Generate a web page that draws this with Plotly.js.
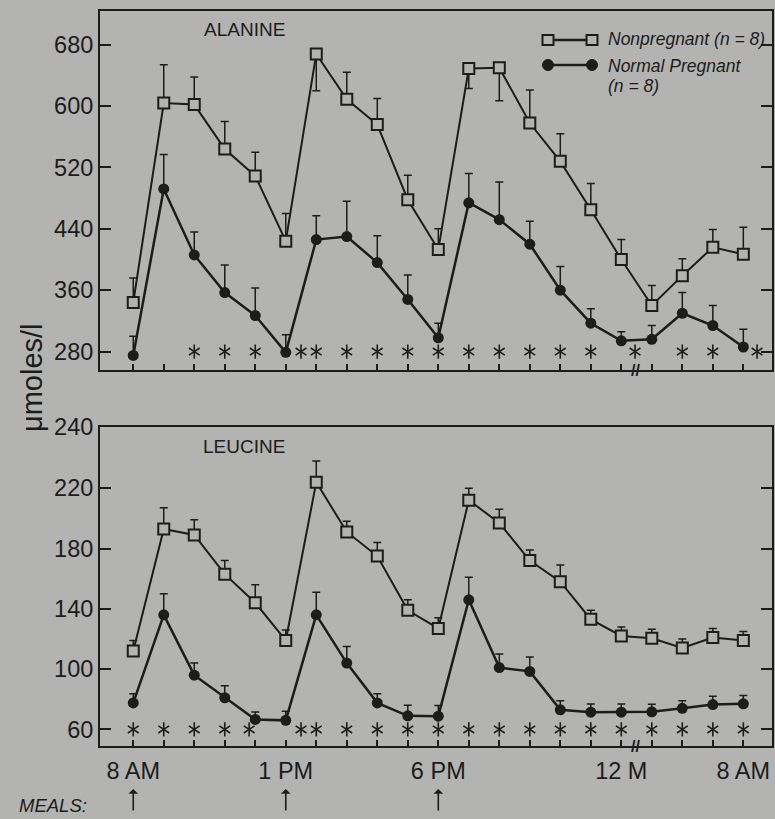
<!DOCTYPE html>
<html><head><meta charset="utf-8">
<script src="https://cdn.plot.ly/plotly-3.0.1.min.js"></script>
<style>html,body{margin:0;padding:0;background:#b3b3b1;}#chart{width:775px;height:819px;}</style>
</head><body><div id="chart"></div>
<script>
// ---- data ----
const timeIdx = [0,1,2,3,4,5,6,7,8,9,10,11,12,13,14,15,16,17,18,19,20];
const xTickLabels = ['8 AM','','','','','1 PM','','','','','6 PM','','','','','','12 M','','','','8 AM'];
const mealIdx = [0,5,10];

const alaNonpreg      = [344,604,602,544,509,424,668,609,576,478,413,649,650,578,528,465,400,340,379,416,407];
const alaNonpregErrUp = [32,50,36,36,31,36,0,35,34,32,27,0,0,43,36,34,26,26,22,23,35];
const alaNonpregErrDn = [0,0,0,0,0,0,48,0,0,0,0,26,43,0,0,0,0,0,0,0,0];
const alaPreg         = [275,492,406,357,327,279,426,430,396,348,298,474,452,420,360,317,294,296,330,314,286];
const alaPregErrUp    = [25,45,30,36,36,23,31,46,35,32,19,38,49,30,31,19,12,18,27,26,23];
const alaStarX        = [2,3,4,5.5,6,7,8,9,10,11,12,13,14,15,16.45,18,19,20.45];
const alaStarLevel    = 280;

const leuNonpreg      = [112,193,189,163,144,119,224,191,175,139,127,212,197,172,158,133,122,120.5,114,121,119];
const leuNonpregErrUp = [7,14,10,9,12,7,14,7,9,7,7,8,9,7,11,6,6,6,6,6,6];
const leuPreg         = [77.6,136,96,81,66.6,66,136,104,77.6,69,68.8,146,101,98.5,73,71.4,71.4,71.7,74,76.5,77];
const leuPregErrUp    = [6,14,8,8,5,6,15,11,6,7,7,15,9,9.5,6,5.5,5.5,5,5,5.5,5.5];
const leuStarX        = [0,1,2,3,3.8,5.5,6,7,8,9,10,11,12,13,14,15,16,17,18,19,20];
const leuStarLevel    = 60;

const alaTicks = [280,360,440,520,600,680];
const alaTickText = ['280','360','440','520','600','680'];
const leuTicks = [60,100,140,180,220,260.5];
const leuTickText = ['60','100','140','180','220','240'];

// ---- style ----
const INK = '#1c1c1c';
const BG = '#b3b3b1';
const FONT = 'Liberation Sans, Arial, sans-serif';
const L = 100, R = 3, T = 11, B = 73, WIDTH = 775, HEIGHT = 819;
const PW = WIDTH - L - R, PH = HEIGHT - T - B;
const px = x => (x - L) / PW;
const py = y => (HEIGHT - B - y) / PH;

function errY(up, dn) {
  return {type:'data', symmetric:false, array:up, arrayminus:dn || up.map(()=>0),
          color:INK, thickness:1.5, width:4};
}
function seriesNon(y, up, dn, xa, ya) {
  return {x:timeIdx, y:y, xaxis:xa, yaxis:ya, mode:'lines+markers', showlegend:false,
    line:{color:INK, width:2},
    marker:{symbol:'square', size:11, color:BG, line:{color:INK, width:2}},
    error_y:errY(up, dn), cliponaxis:false};
}
function seriesPreg(y, up, xa, ya) {
  return {x:timeIdx, y:y, xaxis:xa, yaxis:ya, mode:'lines+markers', showlegend:false,
    line:{color:INK, width:2.5},
    marker:{symbol:'circle', size:11, color:INK},
    error_y:errY(up), cliponaxis:false};
}
function stars(xs, level, xa, ya, sym) {
  return {x:xs, y:xs.map(()=>level), xaxis:xa, yaxis:ya, mode:'markers', showlegend:false,
    marker:{symbol:sym, size:9, color:INK, line:{color:INK, width:1.6}}, cliponaxis:false, hoverinfo:'skip'};
}

const data = [
  seriesNon(alaNonpreg, alaNonpregErrUp, alaNonpregErrDn, 'x2', 'y2'),
  seriesPreg(alaPreg, alaPregErrUp, 'x2', 'y2'),
  stars(alaStarX, alaStarLevel, 'x2', 'y2', 'y-up-open'),
  stars(alaStarX, alaStarLevel, 'x2', 'y2', 'y-down-open'),
  seriesNon(leuNonpreg, leuNonpregErrUp, null, 'x', 'y'),
  seriesPreg(leuPreg, leuPregErrUp, 'x', 'y'),
  stars(leuStarX, leuStarLevel, 'x', 'y', 'y-up-open'),
  stars(leuStarX, leuStarLevel, 'x', 'y', 'y-down-open')
];

const xBase = {range:[-1.09, 20.94], tickvals:timeIdx, ticktext:xTickLabels,
  ticks:'inside', ticklen:6, tickwidth:2, tickcolor:INK, ticklabelstandoff:3,
  showline:true, linewidth:2, linecolor:INK, mirror:true,
  showgrid:false, zeroline:false, tickfont:{family:FONT, size:23.5, color:INK}, fixedrange:true};
const yBase = {ticks:'inside', ticklen:11, tickwidth:2, tickcolor:INK,
  showline:true, linewidth:2, linecolor:INK, mirror:'ticks',
  showgrid:false, zeroline:false, tickfont:{family:FONT, size:23.5, color:INK}, fixedrange:true};

const topDomainLow = py(370);
const botDomainHigh = py(427);

function label(text, x, y, size, extra) {
  return Object.assign({text:text, x:px(x), y:py(y), xref:'paper', yref:'paper',
    xanchor:'center', yanchor:'middle', showarrow:false,
    font:{family:FONT, size:size, color:INK}}, extra || {});
}

const annotations = [
  label('ALANINE', 244, 29.5, 19),
  label('LEUCINE', 244, 446.5, 19),
  label('Nonpregnant (n = 8)', 606, 39, 17.5, {xanchor:'left', font:{family:FONT, size:17.5, color:INK, style:'italic'}}),
  label('Normal Pregnant', 606, 66, 17.5, {xanchor:'left', font:{family:FONT, size:17.5, color:INK, style:'italic'}}),
  label('(n = 8)', 606, 86, 17.5, {xanchor:'left', font:{family:FONT, size:17.5, color:INK, style:'italic'}}),
  label('\u03bcmoles/l', 32, 378, 29, {textangle:-90}),
  label('MEALS:', 53, 805, 18.5, {font:{family:FONT, size:18.5, color:INK, style:'italic'}}),
  {text:'<b>//</b>', x:16.45, xref:'x', y:0, yref:'paper', xanchor:'center', yanchor:'middle', showarrow:false,
   font:{family:FONT, size:16, color:INK}},
  {text:'<b>//</b>', x:16.45, xref:'x2', y:topDomainLow, yref:'paper', xanchor:'center', yanchor:'middle', showarrow:false,
   font:{family:FONT, size:16, color:INK}}
];
mealIdx.forEach(m => annotations.push({
  text:'', x:m, xref:'x', y:py(789), yref:'paper', showarrow:true, ax:0, ay:23,
  arrowhead:1, arrowsize:1, arrowwidth:1.6, arrowcolor:INK
}));

// legend samples
const shapes = [];
function legLine(y0) {
  shapes.push({type:'line', xref:'paper', yref:'paper', x0:px(548), x1:px(592), y0:py(y0), y1:py(y0),
    line:{color:INK, width:2.5}});
}
function legSquare(cx, cy) {
  shapes.push({type:'rect', xref:'paper', yref:'paper', x0:px(cx-5.5), x1:px(cx+5.5), y0:py(cy+5), y1:py(cy-5),
    fillcolor:BG, line:{color:INK, width:2}});
}
function legCircle(cx, cy) {
  shapes.push({type:'circle', xref:'paper', yref:'paper', x0:px(cx-5.5), x1:px(cx+5.5), y0:py(cy+5.5), y1:py(cy-5.5),
    fillcolor:INK, line:{color:INK, width:1}});
}
legLine(40); legSquare(548,40); legSquare(592,40);
legLine(65); legCircle(548,65); legCircle(592,65);

const layout = {
  width:WIDTH, height:HEIGHT, margin:{l:L, r:R, t:T, b:B},
  paper_bgcolor:BG, plot_bgcolor:BG, showlegend:false,
  xaxis:Object.assign({}, xBase, {anchor:'y', domain:[0,1]}),
  xaxis2:Object.assign({}, xBase, {anchor:'y2', domain:[0,1], showticklabels:false}),
  yaxis:Object.assign({}, yBase, {anchor:'x', domain:[0, botDomainHigh], range:[49, 260.6],
    tickvals:leuTicks, ticktext:leuTickText}),
  yaxis2:Object.assign({}, yBase, {anchor:'x2', domain:[topDomainLow, 1], range:[256, 724],
    tickvals:alaTicks, ticktext:alaTickText}),
  annotations:annotations, shapes:shapes
};

Plotly.newPlot('chart', data, layout, {displayModeBar:false, staticPlot:true});
</script>
</body></html>
